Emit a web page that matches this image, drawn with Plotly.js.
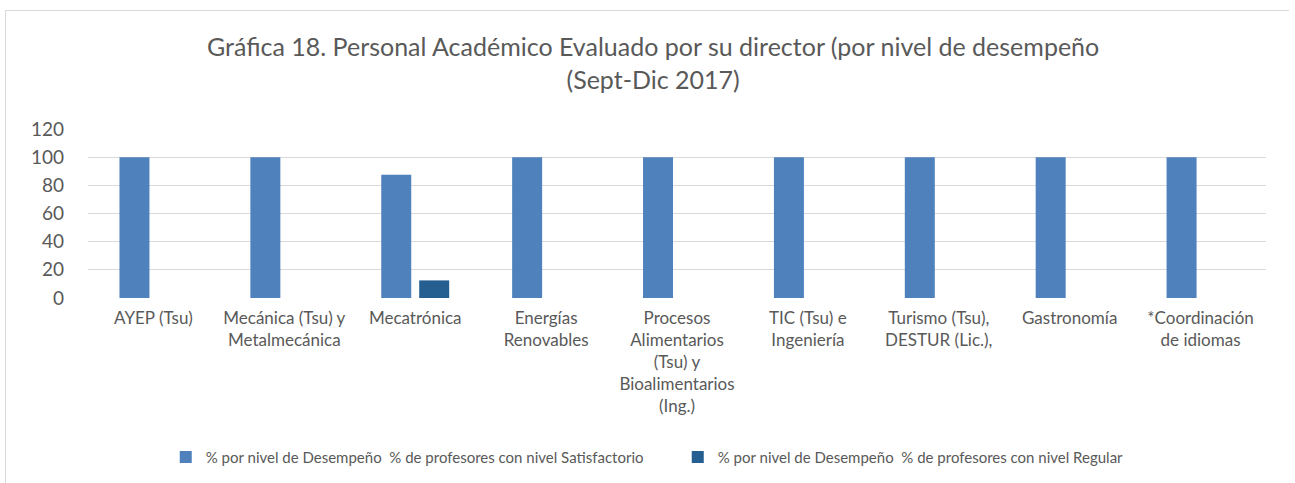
<!DOCTYPE html>
<html><head><meta charset="utf-8">
<script src="https://cdn.plot.ly/plotly-3.0.1.min.js"></script>
<style>
html,body{margin:0;padding:0;background:#fff;}
#chart{position:absolute;left:5px;top:10px;width:1284px;height:480px;border:1px solid #d9d9d9;box-sizing:border-box;}
</style></head>
<body><div id="chart"></div>
<script>
const categories = ["AYEP (Tsu)", "Mecánica (Tsu) y<br>Metalmecánica", "Mecatrónica", "Energías<br>Renovables", "Procesos<br>Alimentarios<br>(Tsu) y<br>Bioalimentarios<br>(Ing.)", "TIC (Tsu) e<br>Ingeniería", "Turismo (Tsu),<br>DESTUR (Lic.),", "Gastronomía", "*Coordinación<br>de idiomas"];
const satisfactorio = [100, 100, 87.5, 100, 100, 100, 100, 100, 100];
const regular = [0, 0, 12.5, 0, 0, 0, 0, 0, 0];
const seriesNames = ["% por nivel de Desempeño  % de profesores con nivel Satisfactorio", "% por nivel de Desempeño  % de profesores con nivel Regular"];
const yTicks = [0, 20, 40, 60, 80, 100, 120];
const titleText = "Gráfica 18. Personal Académico Evaluado por su director (por nivel de desempeño<br>(Sept-Dic 2017)";

const font = "Lato, 'Open Sans', sans-serif";
const data = [
  {type:'bar', x:categories, y:satisfactorio, name:seriesNames[0], marker:{color:'#4f81bd'}},
  {type:'bar', x:categories, y:regular, name:seriesNames[1], marker:{color:'#255e91'}}
];
const layout = {
  width:1284, height:480,
  margin:{l:81.5, r:23.5, t:118, b:193},
  paper_bgcolor:'#fff', plot_bgcolor:'#fff',
  font:{family:font, color:'#595959'},
  title:{text:titleText, x:0.504, xanchor:'center', xref:'container', y:0.906, yref:'container', yanchor:'top', font:{size:25, color:'#595959', family:font}},
  barmode:'group', bargap:0.42, bargroupgap:0.21,
  xaxis:{tickfont:{size:17, color:'#595959'}, showline:false, ticks:'', automargin:false, tickangle:0, ticklabelstandoff:8},
  yaxis:{range:[0,120], tickvals:yTicks, tickfont:{size:19, color:'#595959'}, gridcolor:'#d9d9d9', gridwidth:1.3, zeroline:false, showline:false, ticklabelstandoff:23, automargin:false},
  legend:{orientation:'h', x:0.066, xanchor:'left', y:-0.845, yanchor:'top', font:{size:15, color:'#595959'}, entrywidth:467, itemwidth:30, traceorder:'normal'},
  showlegend:true
};
Plotly.newPlot('chart', data, layout, {displayModeBar:false, staticPlot:true});
</script></body></html>
